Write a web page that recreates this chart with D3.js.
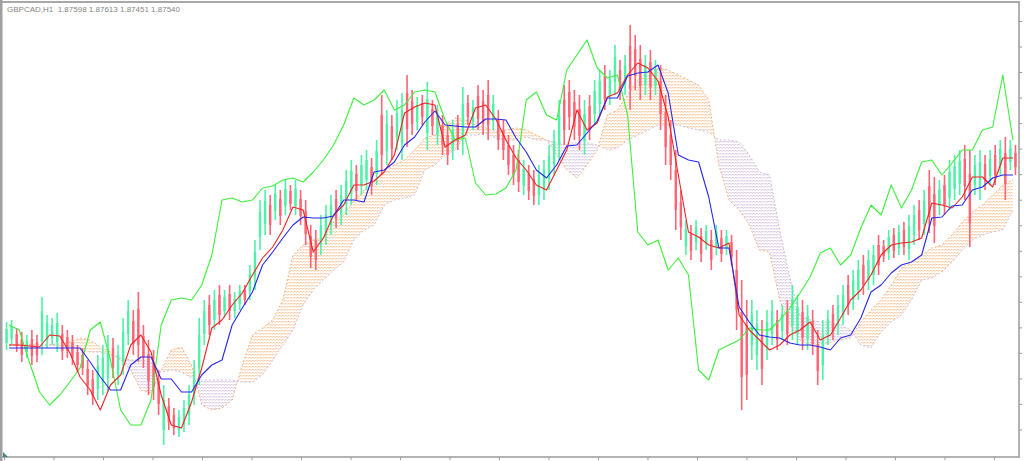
<!DOCTYPE html>
<html><head><meta charset="utf-8">
<script src="https://cdn.jsdelivr.net/npm/d3@7"></script>
<style>html,body{margin:0;padding:0;background:#fff;overflow:hidden}</style>
</head><body><svg id="c" width="1024" height="461"></svg>
<script>
// ---------------- DATA ----------------
const symbolLabel = "GBPCAD,H1  1.87598 1.87613 1.87451 1.87540";
const BASE = 1.8300, PIP = 0.0001;           // all series below are in pips above BASE

const candleOpen = [114,118,123,118,105,118,115,116,117,119,115,123,120,115,105,102,88,78,68,75,
79,109,82,96,123,136,148,121,103,95,76,27,51,42,27,33,42,63,89,123,
152,137,162,146,163,146,153,167,166,180,220,233,252,246,258,251,266,251,258,246,
221,217,212,222,232,258,242,253,263,283,272,277,290,283,342,306,331,320,314,364,
356,335,354,324,348,322,332,322,307,333,319,354,335,361,356,362,336,337,327,312,
302,297,271,283,278,262,267,278,293,312,357,365,355,348,316,351,343,353,381,361,
375,387,372,411,408,398,372,395,371,376,345,322,287,255,211,223,215,221,213,217,
210,219,208,215,187,145,132,112,102,121,110,123,137,126,146,131,124,145,118,136,
113,92,121,143,132,142,172,157,167,192,177,182,212,211,205,222,209,227,208,222,
247,233,271,263,251,272,259,268,273,298,283,272,269,293,281,302,291,304,295,304];
const candleHigh = [135,137,129,125,122,127,122,160,142,139,144,132,127,122,112,109,97,87,102,112,
122,119,112,139,157,147,165,132,117,107,87,72,59,49,47,57,72,97,139,157,
162,167,172,167,172,165,172,172,192,217,257,267,262,272,267,277,272,277,267,257,
232,227,242,252,262,267,272,287,297,292,302,307,299,317,362,347,342,357,364,382,
367,360,362,375,357,352,342,332,337,342,370,362,357,372,367,377,362,347,337,322,
312,307,297,292,287,292,297,312,327,357,372,377,367,362,357,362,377,387,392,387,
412,397,402,432,422,412,402,407,397,392,362,337,307,267,237,232,237,229,232,227,
232,227,227,222,207,177,157,157,147,137,147,157,147,152,157,172,162,157,152,147,
127,137,147,152,162,172,182,187,197,202,207,212,222,217,227,229,232,235,242,252,
257,267,287,280,277,282,297,302,307,312,307,302,307,302,307,312,317,320,317,312];
const candleLow = [107,112,105,95,99,92,95,102,109,112,105,97,99,92,85,82,62,52,57,62,
65,79,72,82,112,102,95,89,62,57,42,12,27,22,20,25,32,52,72,112,
122,127,132,139,137,139,147,152,157,167,207,222,222,237,232,242,247,242,232,212,
189,187,202,212,222,229,232,242,252,257,262,267,262,272,282,292,297,307,297,310,
322,327,332,307,322,312,302,292,297,307,302,332,327,327,322,317,327,307,297,282,
272,265,262,257,252,252,257,267,282,297,312,327,317,307,302,317,332,342,347,352,
362,357,362,347,367,357,362,357,362,327,292,277,227,217,202,197,207,195,207,187,
202,195,202,192,127,47,57,97,87,72,97,112,107,117,112,117,112,107,107,102,
72,77,112,117,122,132,142,147,157,162,167,172,182,195,197,199,202,202,197,212,
217,222,224,214,242,242,247,257,262,257,210,262,257,267,272,272,282,257,287,282];
const candleClose = [128,131,111,102,116,101,102,146,134,132,134,106,106,99,92,89,71,61,91,99,
108,89,102,125,146,113,112,100,76,70,53,57,35,29,40,49,62,86,122,146,
132,157,142,160,146,158,166,157,183,205,245,256,232,263,241,268,253,268,241,223,
200,197,232,242,252,238,262,276,286,266,292,297,271,306,302,333,308,344,347,328,
333,352,340,358,331,342,312,302,327,316,353,340,350,338,333,332,353,317,307,292,
282,275,288,266,261,282,287,301,316,342,327,340,330,321,343,328,366,376,358,378,
400,367,392,368,381,371,392,370,388,343,310,292,247,230,228,206,230,203,226,197,
225,203,221,200,147,80,82,142,132,88,135,146,117,143,123,158,150,119,141,113,
86,122,138,126,152,162,152,177,187,172,197,202,192,201,220,206,225,210,231,242,
227,256,240,231,268,252,285,291,296,271,234,292,295,276,298,282,308,273,309,290];

// Ichimoku lines, one point every 2 bars
const tenkan = [112,112,111,110,122,121,104,80,67,47,72,82,112,122,105,62,32,29,55,89,
129,137,152,164,182,199,210,227,250,247,205,219,242,252,272,272,276,285,302,344,
350,354,352,310,317,322,349,352,338,317,299,287,272,267,287,307,347,327,334,360,
364,382,394,389,376,340,282,225,220,212,209,214,142,127,117,107,112,122,127,135,
117,122,139,157,167,182,202,212,214,215,219,254,252,249,260,280,280,270,299,299];
const kijun = [109,109,109,109,109,109,109,109,95,80,67,67,92,100,100,78,78,65,65,82,
92,97,132,149,165,192,205,219,232,240,239,239,241,257,257,255,285,287,295,312,
320,335,346,332,331,330,330,338,338,337,319,305,287,279,292,311,312,324,336,359,
359,381,384,385,392,364,302,297,295,260,209,209,150,135,122,120,119,114,112,112,
110,107,119,122,139,165,172,184,192,195,202,239,240,251,252,267,270,279,282,282];
const chikou = [132,127,95,65,52,62,75,89,127,135,97,47,32,32,57,132,157,159,157,172,
202,257,259,255,257,269,271,277,279,275,285,297,312,332,359,352,357,367,347,352,
365,367,365,337,317,319,274,262,263,269,287,357,365,342,337,387,402,417,389,379,
382,342,225,212,217,187,199,182,87,77,107,112,117,129,127,127,137,149,164,180,
204,209,192,202,229,252,242,272,249,267,295,297,282,294,307,307,327,330,382,317];
const spanA = [112,112,112,112,112,113,115,119,117,110,105,97,87,67,64,87,107,110,92,52,
47,49,57,92,122,129,137,157,202,212,217,219,235,242,257,267,275,287,292,297,
307,319,322,332,339,337,332,329,325,327,329,327,322,317,302,287,279,292,307,342,
347,362,377,385,389,387,382,377,372,357,292,257,247,232,207,205,157,132,117,112,
112,115,117,119,135,147,157,172,189,195,202,209,212,222,235,245,252,262,272,277];
const spanB = [112,112,112,112,112,111,110,107,105,105,102,99,97,97,95,85,87,85,79,77,
77,77,77,75,75,82,97,112,127,152,167,177,187,195,217,227,232,252,257,259,
262,287,292,302,307,322,322,324,319,317,317,320,317,317,314,314,314,314,312,307,
309,317,322,327,332,332,332,329,327,325,317,317,315,302,285,282,227,179,142,137,
135,135,132,127,112,109,125,135,142,157,177,179,185,195,207,217,222,225,227,247];

const timeTickStepBars = 9.763;                         // one time mark every ~9.8 bars
const priceTickValues = d3.range(17).map(k => BASE + (436 - 25.53 * k) * PIP);

// ---------------- CHART ----------------
const W = 1024, H = 461;
const N = candleOpen.length;
const LINE_STEP = 2;
const toPrice = v => BASE + v * PIP;
const svg = d3.select('#c');

const x = d3.scaleLinear().domain([0, N]).range([4, 1018]);
const y = d3.scaleLinear().domain([BASE, BASE + 453 * PIP]).range([457, 4]);

const defs = svg.append('defs');
defs.append('clipPath').attr('id', 'plotClip').append('rect')
  .attr('x', 3).attr('y', 3).attr('width', 1016).attr('height', 454);

function mkPattern(id, color) {
  const p = defs.append('pattern').attr('id', id).attr('patternUnits', 'userSpaceOnUse')
    .attr('width', 3).attr('height', 3);
  p.append('rect').attr('x', 0).attr('y', 0).attr('width', 1.5).attr('height', 1).attr('fill', color);
  p.append('rect').attr('x', 1.5).attr('y', 0.6).attr('width', 1.5).attr('height', 1).attr('fill', color);
}
mkPattern('bullPat', '#F4A460');
mkPattern('bearPat', '#CDB4D8');

const cloud = spanA.map((a, j) => ({ t: j * LINE_STEP + 1, a: toPrice(a), b: toPrice(spanB[j]) }));
defs.append('clipPath').attr('id', 'bullClip').append('path')
  .attr('d', d3.area().x(d => x(d.t)).y0(0).y1(d => y(d.b))(cloud));
defs.append('clipPath').attr('id', 'bearClip').append('path')
  .attr('d', d3.area().x(d => x(d.t)).y0(d => y(d.b)).y1(H)(cloud));

const g = svg.append('g').attr('clip-path', 'url(#plotClip)');
const kumoArea = d3.area().x(d => x(d.t)).y0(d => y(d.a)).y1(d => y(d.b));
g.append('g').attr('clip-path', 'url(#bullClip)').append('path')
  .attr('d', kumoArea(cloud)).attr('fill', 'url(#bullPat)').attr('opacity', 0.6);
g.append('g').attr('clip-path', 'url(#bearClip)').append('path')
  .attr('d', kumoArea(cloud)).attr('fill', 'url(#bearPat)').attr('opacity', 0.75);
g.append('path').attr('d', d3.line().x(d => x(d.t)).y(d => y(d.a))(cloud))
  .attr('fill', 'none').attr('stroke', '#F4A460').attr('stroke-width', 1).attr('stroke-dasharray', '2,2').attr('opacity', 0.8);
g.append('path').attr('d', d3.line().x(d => x(d.t)).y(d => y(d.b))(cloud))
  .attr('fill', 'none').attr('stroke', '#D3BDDA').attr('stroke-width', 1).attr('stroke-dasharray', '2,2');

// candles
const candles = d3.range(N).map(i => ({
  i, o: toPrice(candleOpen[i]), h: toPrice(candleHigh[i]), l: toPrice(candleLow[i]), c: toPrice(candleClose[i])
}));
const upCol = '#4DF2A6', dnCol = '#FF6474';
const cg = g.append('g');
cg.selectAll('line').data(candles).join('line')
  .attr('x1', d => x(d.i + 0.5)).attr('x2', d => x(d.i + 0.5))
  .attr('y1', d => y(d.h)).attr('y2', d => y(d.l))
  .attr('stroke', d => d.c >= d.o ? upCol : dnCol).attr('stroke-width', 1.6);
cg.selectAll('rect').data(candles).join('rect')
  .attr('x', d => x(d.i + 0.5) - 1.2).attr('width', 2.4)
  .attr('y', d => y(Math.max(d.o, d.c)))
  .attr('height', d => Math.max(1, Math.abs(y(d.o) - y(d.c))))
  .attr('fill', d => d.c >= d.o ? upCol : dnCol);

// lines
function drawLine(arr, color, w) {
  const pts = arr.map((v, j) => ({ t: j * LINE_STEP + 1, v: toPrice(v) }));
  g.append('path').attr('d', d3.line().x(d => x(d.t)).y(d => y(d.v))(pts))
    .attr('fill', 'none').attr('stroke', color).attr('stroke-width', w).attr('stroke-linejoin', 'round');
}
drawLine(chikou, '#3BF03B', 1.1);
drawLine(tenkan, '#F02424', 1.1);
drawLine(kijun, '#2626EE', 1.1);

// axes / frame
const frameCol = '#9A9A9A';
const xAxis = d3.axisBottom(x).tickValues(d3.range(0, N + 0.01, timeTickStepBars)).tickSize(3).tickFormat('');
const ax = svg.append('g').attr('transform', 'translate(0,457)').call(xAxis);
const yAxis = d3.axisRight(y).tickValues(priceTickValues).tickSize(3).tickFormat('');
const ay = svg.append('g').attr('transform', 'translate(1019,0)').call(yAxis);
[ax, ay].forEach(a => { a.select('.domain').remove(); a.selectAll('line').attr('stroke', frameCol); });

svg.append('line').attr('x1', 2).attr('x2', 1019.5).attr('y1', 457).attr('y2', 457).attr('stroke', frameCol).attr('stroke-width', 1.5);
svg.append('line').attr('x1', 1019).attr('x2', 1019).attr('y1', 2).attr('y2', 457.5).attr('stroke', frameCol).attr('stroke-width', 1.5);
svg.append('line').attr('x1', 0).attr('x2', 1020).attr('y1', 2).attr('y2', 2).attr('stroke', '#A8A8A8').attr('stroke-width', 2);
svg.append('rect').attr('x', 0).attr('y', 0).attr('width', 2.5).attr('height', H).attr('fill', '#A0A0A0');
svg.append('path').attr('d', 'M3,452 L3,457 L8,457 Z').attr('fill', '#4A8585');

svg.append('text').attr('x', 7).attr('y', 11.5).text(symbolLabel)
  .attr('font-family', 'Liberation Sans, Arial, sans-serif').attr('font-size', 8).attr('fill', '#858585')
  .attr('xml:space', 'preserve').style('white-space', 'pre');
</script>
</body></html>
